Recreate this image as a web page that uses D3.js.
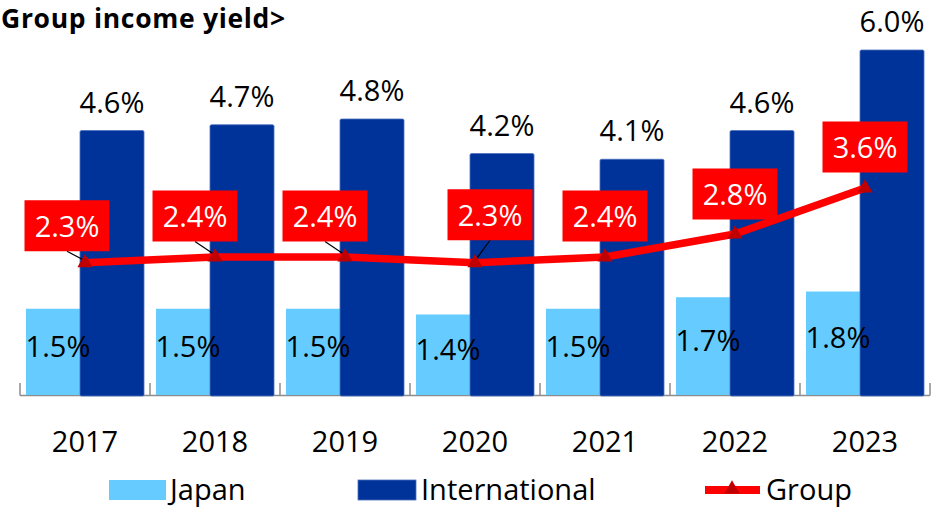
<!DOCTYPE html>
<html>
<head>
<meta charset="utf-8">
<script src="https://cdn.jsdelivr.net/npm/d3@7"></script>
<style>
  html, body { margin: 0; padding: 0; background: #fff; }
  svg { display: block; font-family: "Open Sans", "Noto Sans", sans-serif; }
</style>
</head>
<body>
<svg id="chart" width="946" height="508"></svg>
<script>
// Income yield by segment, percent
const years = ["2017", "2018", "2019", "2020", "2021", "2022", "2023"];
const japan = [1.5, 1.5, 1.5, 1.4, 1.5, 1.7, 1.8];
const international = [4.6, 4.7, 4.8, 4.2, 4.1, 4.6, 6.0];
const group = [2.3, 2.4, 2.4, 2.3, 2.4, 2.8, 3.6];
const seriesNames = ["Japan", "International", "Group"];
const titleText = "Group income yield>";

// Layout
const W = 946, H = 508;
const plotLeft = 20, plotRight = 930, baseY = 395, topY = 50;
const colors = { japan: "#66CCFF", intl: "#003399", group: "#FF0000", marker: "#C00000" };
const fontSize = 29;
// callout nudges for the Group labels (dx, dy from the point)
const calloutDx = [-18, -20, -20, 15, 0, 0, 0];
const calloutDy = [-37, -41, -41, -48, -41, -40, -41];
const calloutW = 85, calloutH = 51;

const svg = d3.select("#chart");

const x = d3.scaleBand().domain(years).range([plotLeft, plotRight]).padding(0);
const y = d3.scaleLinear().domain([0, 6]).range([baseY, topY]);

const bw = x.bandwidth();          // 130
const barW = bw * 64 / 130;
const japanOff = bw * 6 / 130;
const intlOff = bw * 60 / 130;

// Title
svg.append("text")
  .attr("x", 1).attr("y", 28)
  .attr("font-size", 26.5).attr("font-weight", 700)
  .attr("letter-spacing", 0.7)
  .attr("fill", "#000")
  .text(titleText);

// Axis line with inside tick marks at category boundaries
const axisG = svg.append("g");
axisG.append("line")
  .attr("x1", plotLeft).attr("x2", plotRight)
  .attr("y1", baseY + 0.5).attr("y2", baseY + 0.5)
  .attr("stroke", "#8c8c8c").attr("stroke-width", 1.5);
const boundaries = years.map(d => x(d)).concat([x(years[years.length - 1]) + bw]);
axisG.selectAll("line.tick").data(boundaries).join("line")
  .attr("class", "tick")
  .attr("x1", d => d).attr("x2", d => d)
  .attr("y1", baseY - 12).attr("y2", baseY + 0.5)
  .attr("stroke", "#8c8c8c").attr("stroke-width", 1.5);

// Japan bars
svg.append("g").selectAll("rect").data(years).join("rect")
  .attr("x", (d) => x(d) + japanOff)
  .attr("y", (d, i) => y(japan[i]))
  .attr("width", barW)
  .attr("height", (d, i) => baseY - y(japan[i]))
  .attr("fill", colors.japan);

// International bars
svg.append("g").selectAll("rect").data(years).join("rect")
  .attr("x", (d) => x(d) + intlOff)
  .attr("y", (d, i) => y(international[i]))
  .attr("width", barW)
  .attr("height", (d, i) => baseY + 1 - y(international[i]))
  .attr("rx", 1.5)
  .attr("fill", colors.intl)
  .attr("stroke", "#4d6fbf").attr("stroke-width", 0.8);

// Japan value labels, centred in the bars
svg.append("g").selectAll("text").data(years).join("text")
  .attr("x", d => x(d) + japanOff + barW / 2)
  .attr("y", (d, i) => (y(japan[i]) + baseY) / 2 + 5)
  .attr("text-anchor", "middle")
  .attr("font-size", fontSize).attr("fill", "#000")
  .text((d, i) => japan[i].toFixed(1) + "%");

// International value labels, above the bars
svg.append("g").selectAll("text").data(years).join("text")
  .attr("x", d => x(d) + intlOff + barW / 2)
  .attr("y", (d, i) => y(international[i]) - 18)
  .attr("text-anchor", "middle")
  .attr("font-size", fontSize).attr("fill", "#000")
  .text((d, i) => international[i].toFixed(1) + "%");

// Group line
const gx = d => x(d) + bw / 2;
const pts = years.map((d, i) => [gx(d), y(group[i])]);
svg.append("path")
  .attr("d", d3.line()(pts))
  .attr("fill", "none")
  .attr("stroke", colors.group)
  .attr("stroke-width", 7.5)
  .attr("stroke-linejoin", "round");

// Callout leader lines (where the label is pushed away from its point)
const leaderG = svg.append("g");
years.forEach((d, i) => {
  if (Math.abs(calloutDx[i]) > 5) {
    const bx = pts[i][0] + calloutDx[i];
    const by = pts[i][1] + calloutDy[i] + calloutH / 2;
    leaderG.append("line")
      .attr("x1", bx).attr("y1", by)
      .attr("x2", pts[i][0]).attr("y2", pts[i][1] - 2)
      .attr("stroke", "#000").attr("stroke-width", 1.2);
  }
});

// Triangle markers
const tri = d3.symbol().type(d3.symbolTriangle).size(100);
svg.append("g").selectAll("path").data(pts).join("path")
  .attr("transform", p => `translate(${p[0]},${p[1]})`)
  .attr("d", tri)
  .attr("fill", colors.marker);

// Group value callouts
const callG = svg.append("g").selectAll("g").data(years).join("g")
  .attr("transform", (d, i) => `translate(${pts[i][0] + calloutDx[i]},${pts[i][1] + calloutDy[i]})`);
callG.append("rect")
  .attr("x", -calloutW / 2).attr("y", -calloutH / 2)
  .attr("width", calloutW).attr("height", calloutH)
  .attr("fill", colors.group);
callG.append("text")
  .attr("x", 0).attr("y", 11)
  .attr("text-anchor", "middle")
  .attr("font-size", fontSize).attr("fill", "#fff")
  .text((d, i) => group[i].toFixed(1) + "%");

// Category labels
svg.append("g").selectAll("text").data(years).join("text")
  .attr("x", d => x(d) + bw / 2)
  .attr("y", 452)
  .attr("text-anchor", "middle")
  .attr("font-size", fontSize).attr("fill", "#000")
  .text(d => d);

// Legend
const legY = 490;
const leg = svg.append("g");
leg.append("rect").attr("x", 109).attr("y", legY - 10).attr("width", 57).attr("height", 20).attr("fill", colors.japan);
leg.append("text").attr("x", 170).attr("y", legY + 10).attr("font-size", fontSize).text(seriesNames[0]);
leg.append("rect").attr("x", 358).attr("y", legY - 10).attr("width", 58).attr("height", 20)
  .attr("fill", colors.intl).attr("stroke", "#4d6fbf").attr("stroke-width", 0.8);
leg.append("text").attr("x", 421).attr("y", legY + 10).attr("font-size", fontSize).text(seriesNames[1]);
leg.append("line").attr("x1", 705).attr("x2", 760).attr("y1", legY).attr("y2", legY)
  .attr("stroke", colors.group).attr("stroke-width", 8);
leg.append("path").attr("transform", `translate(732,${legY - 1})`).attr("d", tri).attr("fill", colors.marker);
leg.append("text").attr("x", 766).attr("y", legY + 10).attr("font-size", fontSize).text(seriesNames[2]);
</script>
</body>
</html>
